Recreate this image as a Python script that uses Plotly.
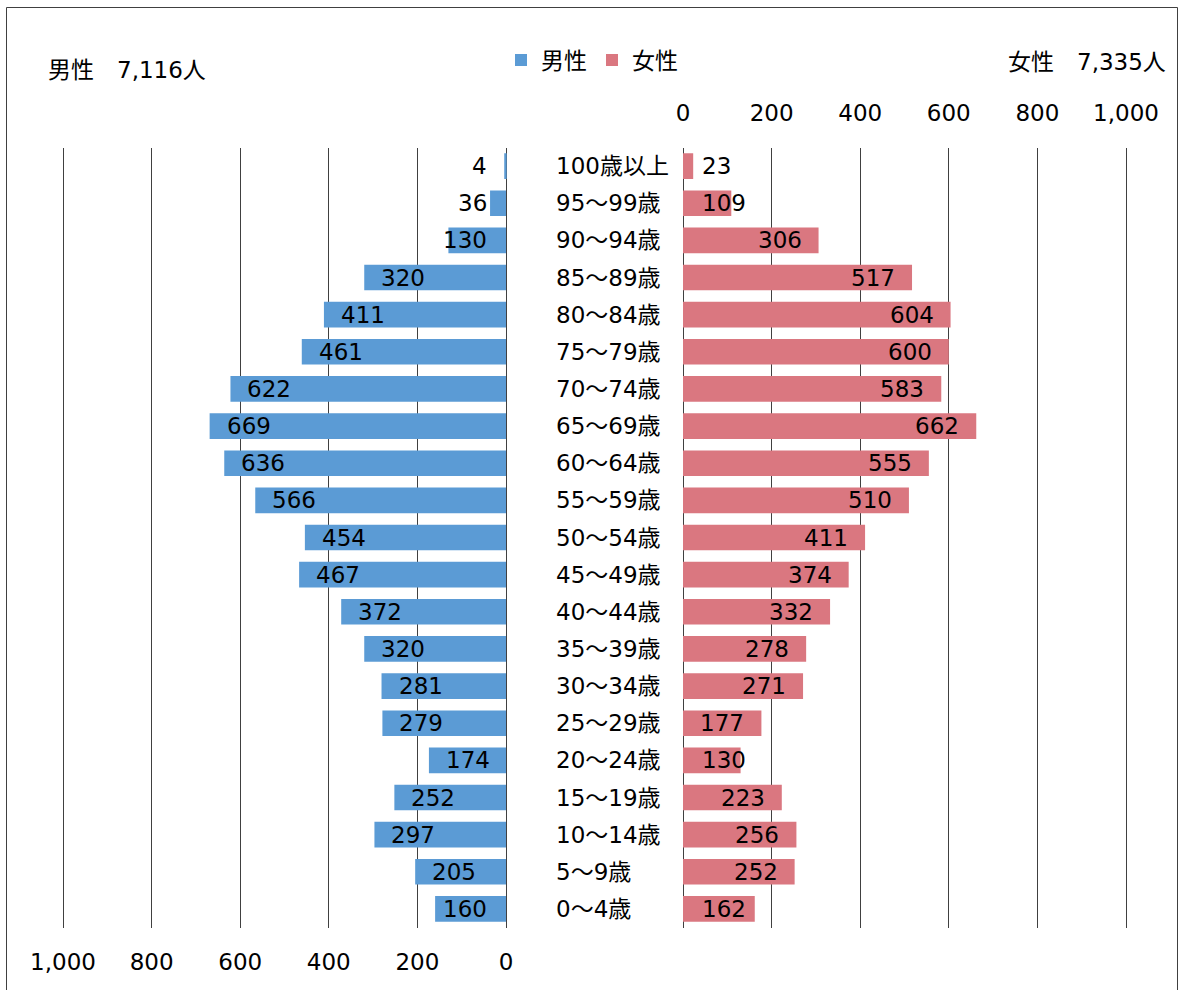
import plotly.graph_objects as go

# Age groups, oldest first (top of the pyramid)
age_groups = [
    "100歳以上", "95～99歳", "90～94歳", "85～89歳", "80～84歳", "75～79歳",
    "70～74歳", "65～69歳", "60～64歳", "55～59歳", "50～54歳", "45～49歳",
    "40～44歳", "35～39歳", "30～34歳", "25～29歳", "20～24歳", "15～19歳",
    "10～14歳", "5～9歳", "0～4歳",
]
male = [4, 36, 130, 320, 411, 461, 622, 669, 636, 566, 454, 467,
        372, 320, 281, 279, 174, 252, 297, 205, 160]
female = [23, 109, 306, 517, 604, 600, 583, 662, 555, 510, 411, 374,
          332, 278, 271, 177, 130, 223, 256, 252, 162]
tick_values = [0, 200, 400, 600, 800, 1000]
male_total_text = "男性　7,116人"
female_total_text = "女性　7,335人"

W, H = 1179, 990
FONT = "DejaVu Sans, Noto Sans CJK JP, sans-serif"
FS = 23
BLUE = "#5B9BD5"
PINK = "#DA7780"
GRID = "#404040"

# panel geometry in pixels
L0, L1000 = 506, 63      # male axis: value 0 / 1000
R0, R1000 = 683, 1126    # female axis: value 0 / 1000
PAD = 3                  # small range padding so edge gridlines are drawn
TOP, BOTTOM = 147.5, 927.5
scale = (L0 - L1000) / 1000.0


def px(x):
    return x / W


def py(y):
    return 1 - y / H


fig = go.Figure()
fig.add_trace(go.Bar(
    name="男性", x=male, y=age_groups, orientation="h",
    marker=dict(color=BLUE, line=dict(width=0)),
    xaxis="x", yaxis="y",
))
fig.add_trace(go.Bar(
    name="女性", x=female, y=age_groups, orientation="h",
    marker=dict(color=PINK, line=dict(width=0)),
    xaxis="x2", yaxis="y",
))

annotations = []
# value labels at the bar ends, kept clear of the centre axis
digit_w = 0.636 * FS
pad_end, pad_base = 15, 17
for cat, v in zip(age_groups, male):
    tw = len(str(v)) * digit_w
    if v * scale >= tw + pad_end + pad_base:
        annotations.append(dict(x=v, y=cat, xref="x", yref="y", text=str(v),
                                xanchor="left", xshift=pad_end, showarrow=False))
    else:
        annotations.append(dict(x=0, y=cat, xref="x", yref="y", text=str(v),
                                xanchor="right", xshift=-pad_base, showarrow=False))
for cat, v in zip(age_groups, female):
    tw = len(str(v)) * digit_w
    if v * scale >= tw + pad_end + pad_base:
        annotations.append(dict(x=v, y=cat, xref="x2", yref="y", text=str(v),
                                xanchor="right", xshift=-pad_end, showarrow=False))
    else:
        annotations.append(dict(x=0, y=cat, xref="x2", yref="y", text=str(v),
                                xanchor="left", xshift=pad_base, showarrow=False))

# age group labels in the centre gap
for cat in age_groups:
    annotations.append(dict(x=px(554), y=cat, xref="paper", yref="y", text=cat,
                            xanchor="left", showarrow=False))

# totals
annotations.append(dict(x=px(46), y=py(70), xref="paper", yref="paper",
                        text=male_total_text, xanchor="left", yanchor="middle",
                        showarrow=False))
annotations.append(dict(x=px(1168), y=py(62), xref="paper", yref="paper",
                        text=female_total_text, xanchor="right", yanchor="middle",
                        showarrow=False))

for a in annotations:
    a["font"] = dict(family=FONT, size=FS, color="#000000")

axis_common = dict(
    tickvals=tick_values, tickformat=",", showgrid=True, gridcolor=GRID,
    gridwidth=1, zeroline=False, showline=False, ticks="",
    tickfont=dict(family=FONT, size=FS, color="#000000"),
    fixedrange=True, automargin=False,
)

fig.update_layout(
    width=W, height=H, autosize=False,
    margin=dict(l=0, r=0, t=0, b=0, pad=0, autoexpand=False),
    paper_bgcolor="white", plot_bgcolor="white",
    barmode="overlay", bargap=0.31,
    font=dict(family=FONT, size=FS, color="#000000"),
    xaxis=dict(domain=[px(L1000 - PAD * scale), px(L0 + PAD * scale)],
               range=[1000 + PAD, -PAD], side="bottom", anchor="y",
               ticklabelstandoff=18, **axis_common),
    xaxis2=dict(domain=[px(R0 - PAD * scale), px(R1000 + PAD * scale)],
                range=[-PAD, 1000 + PAD], side="top", anchor="y",
                ticklabelstandoff=21, **axis_common),
    yaxis=dict(domain=[py(BOTTOM), py(TOP)], type="category",
               autorange="reversed", showticklabels=False, showgrid=False,
               zeroline=False, showline=False, ticks="", fixedrange=True,
               automargin=False),
    legend=dict(orientation="h", x=px(592), xanchor="center", y=py(60),
                yanchor="middle", font=dict(family=FONT, size=FS),
                itemwidth=30, traceorder="normal", bgcolor="rgba(0,0,0,0)"),
    annotations=annotations,
    shapes=[dict(type="rect", xref="paper", yref="paper",
                 x0=px(6.5), x1=px(1177.5), y0=py(1010), y1=py(7.5),
                 line=dict(color="#404040", width=1), fillcolor="rgba(0,0,0,0)",
                 layer="above")],
)

fig.write_html("out.html")
